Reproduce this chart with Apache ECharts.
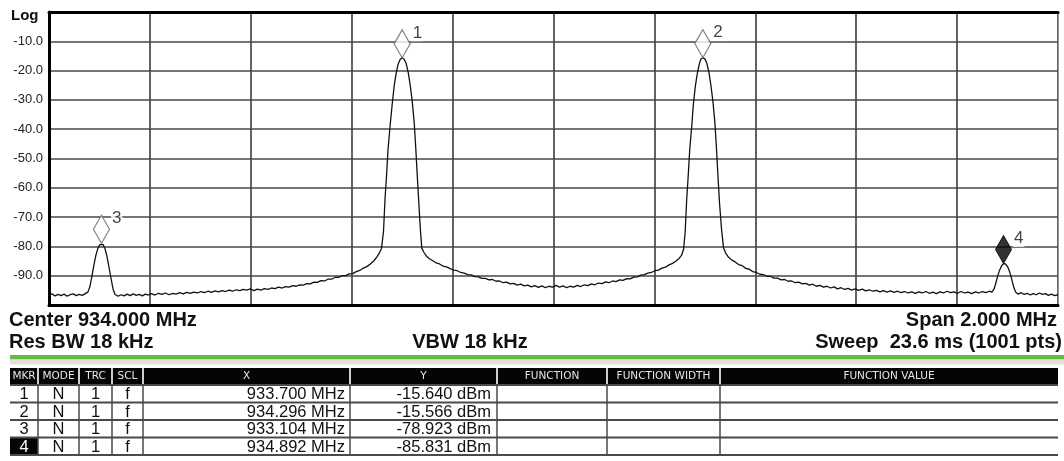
<!DOCTYPE html>
<html>
<head>
<meta charset="utf-8">
<title>Spectrum</title>
<script src="https://cdn.jsdelivr.net/npm/echarts@6/dist/echarts.min.js"></script>
<style>
  html, body { margin: 0; padding: 0; background: #fff; }
  #main { width: 1064px; height: 461px; }
</style>
</head>
<body>
<div id="main"></div>
<script>
// sweep settings
var centerMHz = 934.000;
var spanMHz = 2.000;
var resBW = '18 kHz';
var vbw = '18 kHz';
var sweepText = '23.6 ms (1001 pts)';
var refTop = 0, refBottom = -100, dbPerDiv = 10;

// trace: [MHz, dBm]
var trace = [
  [933.000,-96.6],[933.006,-96.2],[933.012,-96.9],[933.018,-96.4],[933.024,-96.8],[933.030,-96.3],[933.036,-97.0],[933.042,-96.5],
  [933.048,-96.2],[933.054,-96.8],[933.060,-96.4],[933.066,-96.7],[933.072,-96.1],[933.077,-95.6],
  [933.081,-93.8],[933.085,-90.2],[933.089,-86.4],[933.093,-83.0],[933.097,-80.6],[933.101,-79.4],[933.104,-79.1],[933.107,-79.3],
  [933.111,-80.8],[933.115,-83.5],[933.119,-87.2],[933.123,-91.0],[933.127,-94.6],[933.131,-96.4],
  [933.137,-97.0],[933.143,-96.5],[933.149,-96.9],[933.155,-96.3],[933.161,-96.8],[933.167,-96.2],[933.173,-96.7],[933.179,-96.4],
  [933.185,-96.9],[933.191,-96.3],[933.197,-96.6],[933.203,-96.1],[933.210,-96.6],[933.217,-96.0],[933.224,-96.4],[933.231,-95.9],
  [933.238,-96.5],[933.245,-96.0],[933.252,-96.3],[933.259,-95.8],[933.266,-96.2],[933.273,-95.7],[933.280,-96.0],[933.287,-95.6],
  [933.294,-95.9],[933.301,-95.4],[933.308,-95.8],[933.315,-95.3],[933.322,-95.7],[933.329,-95.2],[933.336,-95.5],[933.343,-95.1],
  [933.350,-95.4],[933.357,-94.9],[933.364,-95.3],[933.371,-94.8],[933.378,-95.1],[933.385,-94.7],[933.392,-94.9],[933.399,-94.5],
  [933.406,-95.1],[933.413,-94.6],[933.420,-94.9],[933.427,-94.4],[933.434,-94.7],[933.441,-94.2],[933.448,-94.4],[933.455,-93.9],
  [933.462,-94.2],[933.469,-93.7],[933.476,-93.9],[933.483,-93.4],[933.490,-93.6],[933.497,-93.1],[933.504,-93.2],[933.511,-92.7],
  [933.518,-92.8],[933.525,-92.2],[933.532,-92.3],[933.539,-91.7],[933.546,-91.8],[933.553,-91.2],[933.560,-91.2],[933.567,-90.6],
  [933.574,-90.6],[933.581,-90.0],[933.588,-90.0],[933.595,-89.4],[933.602,-89.3],[933.609,-88.6],[933.616,-88.2],[933.623,-87.4],
  [933.630,-86.9],[933.637,-86.0],[933.644,-84.9],[933.650,-83.6],[933.655,-82.2],[933.659,-80.7],
  [933.663,-75.0],[933.666,-64.0],[933.669,-56.0],[933.672,-47.0],[933.676,-39.0],[933.680,-32.0],[933.684,-25.5],[933.688,-21.0],
  [933.692,-17.8],[933.696,-16.2],[933.700,-15.6],[933.704,-16.1],[933.708,-17.6],[933.712,-20.6],[933.716,-25.0],[933.720,-30.5],
  [933.724,-38.0],[933.727,-46.5],[933.730,-56.0],[933.733,-65.0],[933.736,-74.0],[933.739,-80.6],
  [933.743,-82.0],[933.748,-83.3],[933.754,-84.2],[933.760,-84.8],[933.767,-85.6],[933.774,-86.0],[933.781,-86.7],[933.788,-87.0],
  [933.795,-87.6],[933.802,-88.1],[933.809,-88.3],[933.816,-88.9],[933.823,-89.1],[933.830,-89.6],[933.837,-89.7],[933.844,-90.3],
  [933.851,-90.4],[933.858,-90.9],[933.865,-90.9],[933.872,-91.4],[933.879,-91.3],[933.886,-91.9],[933.893,-91.8],[933.900,-92.4],
  [933.907,-92.2],[933.914,-92.8],[933.921,-92.6],[933.928,-93.2],[933.935,-92.9],[933.942,-93.5],[933.949,-93.2],[933.956,-93.8],
  [933.963,-93.4],[933.970,-94.0],[933.977,-93.5],[933.984,-94.1],[933.991,-93.6],[933.998,-93.9],[934.005,-93.3],[934.012,-93.9],
  [934.019,-93.5],[934.026,-94.1],[934.033,-93.6],[934.040,-93.9],[934.047,-93.3],[934.054,-93.7],[934.061,-93.1],[934.068,-93.4],
  [934.075,-92.8],[934.082,-93.1],[934.089,-92.5],[934.096,-92.7],[934.103,-92.1],[934.110,-92.4],[934.117,-91.8],[934.124,-92.0],
  [934.131,-91.4],[934.138,-91.6],[934.145,-91.0],[934.152,-91.1],[934.159,-90.5],[934.166,-90.4],[934.173,-89.8],[934.180,-89.6],
  [934.187,-89.1],[934.194,-88.9],[934.201,-88.3],[934.208,-88.1],[934.215,-87.4],[934.222,-87.1],[934.229,-86.3],[934.236,-85.8],
  [934.243,-85.0],[934.249,-84.1],[934.254,-83.0],[934.258,-80.8],
  [934.261,-75.0],[934.264,-64.0],[934.267,-56.0],[934.270,-47.0],[934.274,-39.0],[934.277,-32.0],[934.281,-25.5],[934.285,-21.0],
  [934.289,-17.8],[934.292,-16.1],[934.296,-15.6],[934.300,-16.0],[934.304,-17.5],[934.308,-20.5],[934.312,-25.0],[934.316,-30.5],
  [934.320,-38.0],[934.323,-46.5],[934.326,-56.0],[934.329,-65.0],[934.333,-74.0],[934.337,-80.5],
  [934.341,-82.2],[934.346,-83.5],[934.353,-84.6],[934.360,-85.3],[934.367,-86.2],[934.374,-86.6],[934.381,-87.5],[934.388,-87.8],
  [934.395,-88.6],[934.402,-88.9],[934.409,-89.5],[934.416,-89.6],[934.423,-90.2],[934.430,-90.2],[934.437,-90.8],[934.444,-90.8],
  [934.451,-91.4],[934.458,-91.3],[934.465,-91.9],[934.472,-91.8],[934.479,-92.4],[934.486,-92.2],[934.493,-92.8],[934.500,-92.6],
  [934.507,-93.2],[934.514,-92.9],[934.521,-93.6],[934.528,-93.3],[934.535,-93.9],[934.542,-93.6],[934.549,-94.2],[934.556,-93.8],
  [934.563,-94.5],[934.570,-94.1],[934.577,-94.7],[934.584,-94.3],[934.591,-94.9],[934.598,-94.5],[934.605,-95.0],[934.612,-94.6],
  [934.619,-95.2],[934.626,-94.8],[934.633,-95.3],[934.640,-95.0],[934.647,-95.5],[934.654,-95.1],[934.661,-95.6],[934.668,-95.2],
  [934.675,-95.7],[934.682,-95.3],[934.689,-95.8],[934.696,-95.4],[934.703,-95.9],[934.710,-95.5],[934.717,-96.0],[934.724,-95.5],
  [934.731,-95.9],[934.738,-95.4],[934.745,-96.0],[934.752,-95.6],[934.759,-96.1],[934.766,-95.5],[934.773,-95.9],[934.780,-95.3],
  [934.787,-95.8],[934.794,-95.5],[934.801,-96.0],[934.808,-95.4],[934.815,-95.9],[934.822,-95.6],[934.829,-96.1],[934.836,-95.5],
  [934.843,-95.9],[934.850,-95.4],[934.857,-95.8],[934.864,-95.3],[934.869,-95.6],
  [934.873,-94.6],[934.876,-93.0],[934.880,-90.4],[934.884,-88.2],[934.888,-86.7],[934.892,-85.9],[934.896,-86.0],[934.900,-86.9],
  [934.904,-88.6],[934.908,-91.0],[934.912,-93.8],[934.916,-95.6],
  [934.921,-96.3],[934.927,-95.8],[934.933,-96.4],[934.939,-96.0],[934.945,-96.6],[934.951,-96.1],[934.957,-96.5],[934.963,-95.9],
  [934.969,-96.4],[934.975,-96.1],[934.981,-96.7],[934.987,-96.3],[934.993,-96.8],[935.000,-96.5]
];

// marker table
var markerIds = ['1', '2', '3', '4'];
var markerMode = ['N', 'N', 'N', 'N'];
var markerTrace = ['1', '1', '1', '1'];
var markerScale = ['f', 'f', 'f', 'f'];
var markerFreq = [933.700, 934.296, 933.104, 934.892];
var markerLevel = [-15.640, -15.566, -78.923, -85.831];
var activeMarker = 3; // index of the filled one
var tableHeaders = ['MKR', 'MODE', 'TRC', 'SCL', 'X', 'Y', 'FUNCTION', 'FUNCTION WIDTH', 'FUNCTION VALUE'];

var FONT = '"Liberation Sans", Arial, sans-serif';
var myChart = echarts.init(document.getElementById('main'), null, { renderer: 'canvas' });

// ---- texts + table as graphic elements ----
var g = [];
function txt(x, y, s, font, fill, align) {
  g.push({
    type: 'text', silent: true,
    style: {
      x: x, y: y, text: s, font: font, fill: fill,
      textAlign: align, textVerticalAlign: 'middle', align: align, verticalAlign: 'middle'
    }
  });
}
function rect(x, y, w, h, fill) {
  g.push({ type: 'rect', silent: true, shape: { x: x, y: y, width: w, height: h }, style: { fill: fill } });
}
function line(x1, y1, x2, y2, color, w) {
  g.push({ type: 'line', silent: true, shape: { x1: x1, y1: y1, x2: x2, y2: y2 }, style: { stroke: color, lineWidth: w } });
}

txt(11, 16, 'Log', 'bold 15px ' + FONT, '#111', 'left');

var bold = 'bold 20px ' + FONT;
txt(9, 320, 'Center ' + centerMHz.toFixed(3) + ' MHz', bold, '#111', 'left');
txt(9, 342, 'Res BW ' + resBW, bold, '#111', 'left');
txt(470, 342, 'VBW ' + vbw, bold, '#111', 'center');
txt(1057, 320, 'Span ' + spanMHz.toFixed(3) + ' MHz', bold, '#111', 'right');
txt(1062, 342, 'Sweep  ' + sweepText, bold, '#111', 'right');

rect(10, 355, 1054, 4.5, '#63ba48');
rect(10, 359.5, 1054, 5, '#e2e0d6');

var cols = [10, 38, 79, 112, 143, 350, 497, 607, 720, 1058];
var headTop = 368, headH = 16.5, rowTop = 385, rowH = 17.5;
rect(cols[0], headTop, cols[cols.length - 1] - cols[0], headH, '#050505');
for (var c = 1; c < cols.length - 1; c++) {
  line(cols[c], headTop, cols[c], headTop + headH, '#cfcfcf', 2);
}
for (c = 0; c < tableHeaders.length; c++) {
  txt((cols[c] + cols[c + 1]) / 2, headTop + headH / 2 + 0.5, tableHeaders[c],
      '10.5px "DejaVu Sans", sans-serif', '#e6e6e6', 'center');
}
// active marker cell
rect(cols[0], rowTop + activeMarker * rowH, cols[1] - cols[0], rowH, '#050505');
for (var r = 0; r <= markerIds.length; r++) {
  line(cols[0], rowTop + r * rowH, cols[cols.length - 1], rowTop + r * rowH, '#4a4a4a', 2);
}
for (c = 1; c < cols.length - 1; c++) {
  line(cols[c], rowTop, cols[c], rowTop + markerIds.length * rowH, '#4a4a4a', 1.5);
}
var cellFont = '16.5px ' + FONT;
for (r = 0; r < markerIds.length; r++) {
  var cy = rowTop + r * rowH + rowH / 2 + 1;
  txt((cols[0] + cols[1]) / 2, cy, markerIds[r], cellFont, r === activeMarker ? '#fff' : '#111', 'center');
  txt((cols[1] + cols[2]) / 2, cy, markerMode[r], cellFont, '#111', 'center');
  txt((cols[2] + cols[3]) / 2, cy, markerTrace[r], cellFont, '#111', 'center');
  txt((cols[3] + cols[4]) / 2, cy, markerScale[r], cellFont, '#111', 'center');
  txt(cols[5] - 5, cy, markerFreq[r].toFixed(3) + ' MHz', cellFont, '#111', 'right');
  txt(cols[6] - 6, cy, markerLevel[r].toFixed(3) + ' dBm', cellFont, '#111', 'right');
}

// ---- chart ----
var fStart = centerMHz - spanMHz / 2, fStop = centerMHz + spanMHz / 2;
var markerData = markerIds.map(function (id, i) {
  return {
    value: [markerFreq[i], markerLevel[i]],
    name: id,
    itemStyle: i === activeMarker
      ? { color: '#000', borderColor: '#000', borderWidth: 1 }
      : { color: '#fff', borderColor: '#666', borderWidth: 1.3 }
  };
});

var option = {
  animation: false,
  backgroundColor: '#fff',
  grid: { left: 49, top: 12, width: 1009, height: 293, show: false },
  xAxis: [{
    type: 'value', min: fStart, max: fStop, interval: spanMHz / 10, position: 'bottom',
    axisLine: { show: true, onZero: false, lineStyle: { color: '#000', width: 3 } },
    axisTick: { show: false }, axisLabel: { show: false },
    splitLine: { show: true, lineStyle: { color: '#474747', width: 1.7 } }
  }, {
    type: 'value', min: fStart, max: fStop, position: 'top',
    axisLine: { show: true, onZero: false, lineStyle: { color: '#000', width: 3 } },
    axisTick: { show: false }, axisLabel: { show: false }, splitLine: { show: false }
  }],
  yAxis: [{
    type: 'value', min: refBottom, max: refTop, interval: dbPerDiv, position: 'left',
    axisLine: { show: true, onZero: false, lineStyle: { color: '#000', width: 3 } },
    axisTick: { show: false },
    axisLabel: {
      color: '#222', fontSize: 13, fontFamily: FONT, margin: 6,
      formatter: function (v) { return (v === refTop || v === refBottom) ? '' : v.toFixed(1); }
    },
    splitLine: { show: true, lineStyle: { color: '#474747', width: 1.7 } }
  }, {
    type: 'value', min: refBottom, max: refTop, position: 'right',
    axisLine: { show: true, onZero: false, lineStyle: { color: '#999', width: 1 } },
    axisTick: { show: false }, axisLabel: { show: false }, splitLine: { show: false }
  }],
  series: [{
    type: 'line', data: trace, xAxisIndex: 0, yAxisIndex: 0,
    showSymbol: false, symbol: 'none', smooth: false,
    lineStyle: { color: '#111', width: 1.3 }, z: 3
  }, {
    type: 'scatter', data: markerData, xAxisIndex: 0, yAxisIndex: 0,
    symbol: 'diamond', symbolSize: [16, 28], symbolOffset: [0, -14], z: 5,
    label: {
      show: true, position: 'right', distance: 1, offset: [0, -11],
      formatter: function (p) { return p.name; },
      color: '#111', fontSize: 17, fontFamily: FONT,
      backgroundColor: '#fff', padding: [0, 1]
    }
  }],
  graphic: g
};
myChart.setOption(option);
</script>
</body>
</html>
